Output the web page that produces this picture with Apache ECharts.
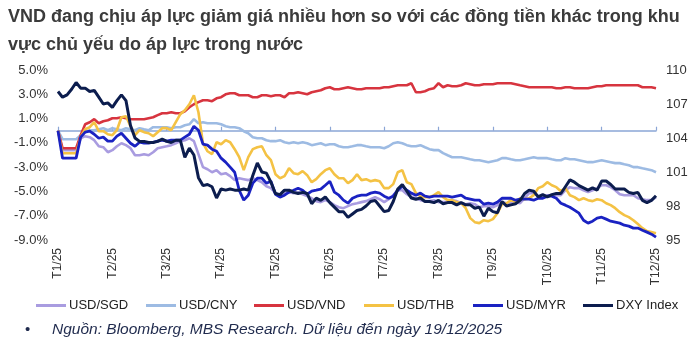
<!DOCTYPE html>
<html><head><meta charset="utf-8">
<script src="https://cdn.jsdelivr.net/npm/echarts@6/dist/echarts.min.js"></script>
<style>html,body{margin:0;padding:0;background:#fff}#c{width:700px;height:348px}</style>
</head><body><div id="c"></div>
<script>
const tickLabels = ["T1/25","T2/25","T3/25","T4/25","T5/25","T6/25","T7/25","T8/25","T9/25","T10/25","T11/25","T12/25"];
const seriesNames = ["USD/SGD","USD/CNY","USD/VND","USD/THB","USD/MYR","DXY Index"];
const leftTicks = [-9, -7, -5, -3, -1, 1, 3, 5];
const rightTicks = [95, 98, 101, 104, 107, 110];

const usdSgd = [
0, -1.60, -1.60, -1.60, -1.60, -0.62, -0.45, -0.53, -0.78, -1.28, -1.36, -1.77,
-1.60, -1.28, -1.03, -1.19, -1.44, -2.02, -2.02, -1.93, -2.02, -1.77, -1.44, -1.36,
-1.28, -1.19, -1.03, -0.86, -0.78, -0.62, -0.86, -1.93, -3.00, -3.17, -3.42, -3.25,
-3.58, -3.50, -3.74, -4.07, -3.91, -3.99, -4.07, -3.91, -4.07, -4.24, -4.57, -4.73,
-5.14, -5.31, -5.14, -5.06, -5.14, -5.06, -5.23, -5.39, -5.56, -5.80, -5.88, -5.72,
-5.88, -6.13, -6.30, -6.38, -6.21, -6.05, -5.97, -5.88, -5.80, -5.64, -5.47, -5.64,
-5.88, -5.64, -5.31, -4.90, -4.90, -5.23, -5.47, -5.56, -5.72, -5.80, -5.80, -5.72,
-5.88, -5.88, -5.88, -5.72, -5.80, -5.97, -6.05, -5.97, -6.05, -6.30, -6.21, -6.21,
-6.30, -6.13, -5.88, -5.97, -5.97, -5.88, -5.97, -5.56, -5.14, -5.14, -5.39, -5.39,
-5.31, -5.31, -5.31, -5.31, -4.90, -4.65, -4.73, -4.73, -4.90, -5.06, -4.90, -4.73,
-4.49, -4.49, -4.65, -4.90, -5.23, -5.31, -5.31, -5.31, -5.56, -5.64, -5.72, -5.72,
-5.47];

const usdCny = [
0, -0.70, -0.70, -0.70, -0.70, -0.37, -0.12, 0.04, 0.04, 0.12, 0.21, 0.04,
0.21, 0.12, 0.04, 0.21, 0.12, 0.04, 0.21, 0.12, 0.04, 0.29, 0.29, 0.29,
0.29, 0.21, 0.29, 0.29, 0.45, 0.53, 0.95, 0.62, 0.70, 0.62, 0.62, 0.62,
0.53, 0.37, 0.29, 0.29, 0.21, -0.04, -0.21, -0.53, -0.62, -0.62, -0.78, -0.86,
-0.86, -0.78, -0.95, -1.03, -0.95, -1.03, -0.95, -1.03, -1.19, -1.11, -1.03, -1.19,
-1.11, -1.11, -1.28, -1.36, -1.36, -1.28, -1.19, -1.19, -1.28, -1.36, -1.36, -1.36,
-1.44, -1.28, -1.03, -0.95, -1.03, -1.19, -1.28, -1.28, -1.19, -1.36, -1.52, -1.60,
-1.60, -1.85, -2.02, -2.18, -2.18, -2.18, -2.26, -2.35, -2.43, -2.43, -2.51, -2.59,
-2.51, -2.43, -2.26, -2.26, -2.35, -2.43, -2.43, -2.35, -2.26, -2.18, -2.26, -2.26,
-2.26, -2.35, -2.43, -2.43, -2.26, -2.35, -2.35, -2.43, -2.51, -2.59, -2.59, -2.51,
-2.43, -2.51, -2.59, -2.67, -2.67, -2.76, -2.84, -3.00, -3.00, -3.09, -3.17, -3.25,
-3.42];

const usdVnd = [
0, -1.44, -1.44, -1.44, -1.44, -0.37, 0.53, 0.70, 0.95, 0.62, 0.78, 0.86,
1.03, 1.03, 1.11, 1.03, 0.95, 0.95, 0.95, 0.95, 1.03, 1.11, 1.28, 1.44,
1.44, 1.52, 1.44, 1.44, 1.60, 1.93, 2.18, 2.35, 2.51, 2.51, 2.43, 2.67,
2.76, 3.00, 3.09, 3.09, 2.92, 2.92, 2.92, 2.76, 2.76, 2.92, 2.92, 2.84,
2.92, 2.92, 2.76, 3.09, 3.09, 3.17, 3.09, 3.00, 3.17, 3.25, 3.33, 3.50,
3.58, 3.42, 3.42, 3.50, 3.58, 3.50, 3.42, 3.42, 3.50, 3.50, 3.50, 3.50,
3.58, 3.58, 3.66, 3.74, 3.74, 3.74, 3.91, 3.17, 3.17, 3.25, 3.42, 3.50,
3.91, 3.58, 3.74, 3.66, 3.66, 3.74, 3.91, 3.83, 3.74, 3.74, 3.83, 3.83,
3.83, 3.91, 3.91, 3.91, 3.91, 3.83, 3.74, 3.66, 3.58, 3.58, 3.58, 3.58,
3.58, 3.58, 3.50, 3.50, 3.58, 3.58, 3.50, 3.50, 3.50, 3.50, 3.58, 3.66,
3.66, 3.74, 3.74, 3.74, 3.74, 3.74, 3.74, 3.74, 3.74, 3.58, 3.58, 3.58,
3.50];

const usdThb = [
0, -1.85, -1.85, -1.85, -1.85, -0.53, 0.12, 0.29, 0.70, -0.04, -0.04, -0.29,
-0.37, 0.04, 1.11, 1.19, 0.37, -0.37, 0.04, -0.12, -0.21, -0.45, -0.12, 0.21,
0.21, 0.04, 0.70, 1.36, 1.69, 2.18, 2.92, 1.52, -1.03, -1.69, -1.93, -0.95,
-1.11, -0.78, -0.95, -1.52, -2.18, -3.25, -2.18, -1.52, -1.36, -1.28, -2.02, -2.43,
-3.58, -3.91, -3.74, -3.09, -3.50, -3.58, -3.33, -3.66, -4.24, -3.99, -3.58, -3.25,
-3.09, -3.58, -3.91, -3.91, -4.32, -4.07, -3.58, -4.07, -3.99, -4.16, -4.07, -4.16,
-4.73, -4.73, -4.40, -3.42, -3.25, -4.24, -4.40, -5.14, -5.39, -5.47, -5.47, -5.31,
-5.06, -5.47, -5.72, -5.72, -5.88, -5.97, -6.38, -7.20, -7.53, -7.61, -7.37, -7.45,
-7.28, -6.79, -6.05, -5.97, -5.72, -5.88, -5.56, -5.64, -5.56, -5.31, -4.73, -4.57,
-4.24, -4.49, -4.65, -4.98, -4.73, -5.31, -5.47, -5.72, -5.56, -5.72, -5.80, -5.64,
-5.72, -5.97, -6.13, -6.38, -6.71, -6.95, -7.12, -7.37, -7.69, -8.02, -8.27, -8.35,
-8.44];

const usdMyr = [
0, -2.26, -2.26, -2.26, -2.26, -0.53, -0.12, -0.04, -0.29, -0.62, -0.53, -0.86,
-0.86, -0.45, -0.21, -0.62, -1.03, -1.28, -0.95, -1.03, -1.03, -0.95, -0.86, -0.78,
-0.86, -0.78, -0.78, -0.78, -0.53, -0.29, 0.37, 0.04, -1.11, -1.19, -1.52, -1.69,
-2.26, -2.59, -3.00, -3.42, -4.90, -5.72, -5.31, -4.32, -3.91, -3.91, -4.32, -4.16,
-5.23, -5.47, -5.31, -5.06, -4.90, -4.73, -4.90, -5.23, -4.98, -4.90, -4.81, -4.49,
-4.16, -5.06, -5.31, -5.72, -5.97, -5.56, -5.39, -5.31, -5.31, -5.14, -5.06, -5.14,
-5.39, -5.56, -5.39, -4.90, -4.57, -4.90, -5.14, -5.31, -5.14, -5.39, -5.47, -5.39,
-5.39, -5.39, -5.39, -5.47, -5.39, -5.31, -5.56, -5.64, -5.72, -5.72, -6.05, -5.97,
-6.05, -5.88, -5.56, -5.56, -5.56, -5.72, -5.64, -5.64, -5.64, -5.72, -5.56, -5.56,
-5.39, -5.39, -5.56, -5.97, -6.13, -6.30, -6.54, -6.79, -7.37, -7.61, -7.45, -7.20,
-7.12, -7.28, -7.45, -7.53, -7.61, -7.78, -7.86, -8.02, -8.02, -8.19, -8.35, -8.52,
-8.77];

const dxyIndex = [
108.1, 107.6, 107.8, 108.3, 108.9, 108.4, 108.4, 108.1, 108.2, 107.6, 107.0, 107.1,
106.7, 107.3, 107.8, 107.3, 105.1, 104.0, 103.7, 103.7, 103.6, 103.6, 103.7, 103.9,
103.7, 103.6, 103.8, 103.8, 102.3, 103.1, 102.5, 100.5, 99.8, 99.9, 99.7, 98.7,
99.5, 99.4, 99.5, 99.4, 99.4, 99.5, 99.4, 100.7, 101.8, 101.0, 100.9, 100.1,
99.1, 99.0, 99.4, 99.4, 99.2, 99.1, 99.2, 99.1, 98.2, 98.7, 98.5, 98.8,
98.3, 97.9, 97.5, 97.5, 97.0, 97.3, 97.6, 97.7, 98.0, 98.4, 98.5, 98.0,
97.5, 97.6, 98.4, 99.5, 99.9, 99.3, 98.7, 98.6, 98.7, 98.4, 98.4, 98.3,
98.5, 98.2, 98.3, 98.3, 98.1, 98.3, 98.1, 98.1, 97.8, 97.9, 97.1, 97.8,
97.5, 97.4, 98.4, 98.0, 98.1, 98.2, 98.5, 99.1, 99.4, 99.3, 98.8, 99.0,
98.8, 99.0, 99.1, 99.1, 99.7, 100.3, 100.1, 99.8, 99.6, 99.4, 99.6, 99.4,
100.2, 100.2, 99.9, 99.5, 99.5, 99.5, 99.2, 99.1, 99.2, 98.5, 98.3, 98.5,
98.9];

// category axis: 12 points per month label, last label at the final point
const PER = 12;
const categories = [];
tickLabels.forEach((m, k) => {
  const n = k < tickLabels.length - 1 ? PER : 1;
  for (let j = 0; j < n; j++) categories.push(m + '#' + j);
});

const colors = ['#a99ce0', '#9dbbe3', '#d7343f', '#f4c244', '#1a22c2', '#0c1d4e'];
const widths = [2.6, 2.6, 2.6, 2.6, 2.8, 3];
const seriesData = [usdSgd, usdCny, usdVnd, usdThb, usdMyr, dxyIndex];
const FONT = 'Liberation Sans, Arial, sans-serif';

const legendLefts = [36, 146, 254, 364, 473, 583];

const chart = echarts.init(document.getElementById('c'), null, {renderer: 'canvas'});
chart.setOption({
  animation: false,
  backgroundColor: '#fff',
  title: {
    text: 'VND đang chịu áp lực giảm giá nhiều hơn so với các đồng tiền khác trong khu\nvực chủ yếu do áp lực trong nước',
    left: 8, top: 3, padding: 0,
    textStyle: {fontFamily: FONT, fontSize: 18, fontWeight: 'bold', color: '#3b3b3b', lineHeight: 28}
  },
  legend: seriesNames.map((n, i) => ({
    data: [n], left: legendLefts[i], top: 299, padding: 0,
    icon: 'rect', itemWidth: 30, itemHeight: 3,
    textStyle: {fontFamily: FONT, fontSize: 13, color: '#222', padding: [0, 0, 0, -2]}
  })),
  graphic: [
    {type: 'text', left: 25, top: 322, style: {text: '•', font: '15px ' + FONT, fill: '#1f2a4d'}},
    {type: 'text', left: 52, top: 322, style: {text: 'Nguồn: Bloomberg, MBS Research. Dữ liệu đến ngày 19/12/2025', font: 'italic 15.5px ' + FONT, fill: '#1f2a4d'}}
  ],
  grid: {left: 58, right: 44, top: 70, bottom: 108, containLabel: false},
  xAxis: [
    {
      type: 'category', data: categories, boundaryGap: false, position: 'bottom',
      axisLine: {show: false, onZero: false}, axisTick: {show: false},
      axisLabel: {
        interval: PER - 1, rotate: 90, margin: 8, fontFamily: FONT, fontSize: 12, color: '#333',
        formatter: v => v.split('#')[0]
      },
      splitLine: {show: false}
    },
    {
      type: 'category', data: categories, boundaryGap: false, position: 'bottom',
      axisLine: {show: true, onZero: true, onZeroAxisIndex: 0, lineStyle: {color: '#8ba6d6', width: 1.5}},
      axisTick: {show: true, inside: true, interval: PER - 1, length: 4, lineStyle: {color: '#8ba6d6', width: 1.2}},
      axisLabel: {show: false}, splitLine: {show: false}
    }
  ],
  yAxis: [
    {
      type: 'value', min: leftTicks[0], max: leftTicks[leftTicks.length - 1], interval: 2, position: 'left',
      axisLine: {show: false}, axisTick: {show: false}, splitLine: {show: false},
      axisLabel: {margin: 10, fontFamily: FONT, fontSize: 13, color: '#333', formatter: v => v.toFixed(1) + '%'}
    },
    {
      type: 'value', min: rightTicks[0], max: rightTicks[rightTicks.length - 1], position: 'right',
      axisLine: {show: false}, axisTick: {show: false}, splitLine: {show: false},
      axisLabel: {margin: 10, fontFamily: FONT, fontSize: 13, color: '#333', customValues: rightTicks}
    }
  ],
  series: seriesNames.map((n, i) => ({
    name: n, type: 'line', data: seriesData[i], xAxisIndex: 0, yAxisIndex: i === 5 ? 1 : 0,
    showSymbol: false, symbol: 'none', color: colors[i],
    lineStyle: {width: widths[i], color: colors[i]}, z: 2 + i
  }))
});
</script></body></html>
